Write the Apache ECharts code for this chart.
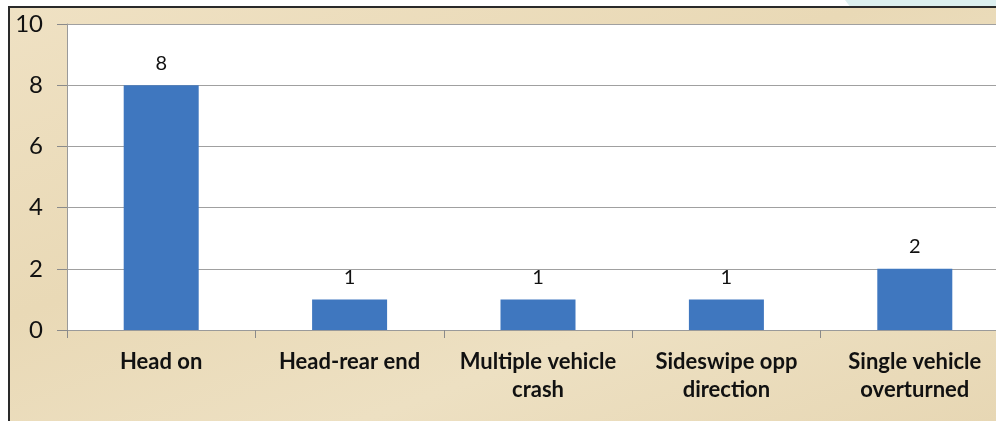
<!DOCTYPE html>
<html>
<head>
<meta charset="utf-8">
<script src="https://cdn.jsdelivr.net/npm/echarts@6/dist/echarts.min.js"></script>
<style>
  html, body { margin: 0; padding: 0; background: #fff; }
  #wrap { position: relative; width: 996px; height: 421px; overflow: hidden; background: #fff; }
  #teal { position: absolute; left: 845px; top: 0; width: 151px; height: 8px; background: #dcefef;
          clip-path: polygon(0 0, 100% 0, 100% 100%, 4% 100%); }
  #chart { position: absolute; left: 8px; top: 6px; width: 986px; height: 413px;
           border-left: 2px solid #2a2a2a; border-top: 2px solid #2a2a2a;
           background: linear-gradient(160deg, #efe1c3 0%, #e9d9b6 40%, #ede0c2 70%, #e7d7b4 100%); }
</style>
</head>
<body>
<div id="wrap">
  <div id="teal"></div>
  <div id="chart"></div>
</div>
<script>
// 事故类型及数量
const categories = ['Head on', 'Head-rear end', 'Multiple vehicle\ncrash', 'Sideswipe opp\ndirection', 'Single vehicle\noverturned']
const counts = [8, 1, 1, 1, 2]
const yMin = 0
const yMax = 10
const yStep = 2

const chart = echarts.init(document.getElementById('chart'))
chart.setOption({
  animation: false,
  textStyle: { fontFamily: 'Lato' },
  grid: {
    show: true,
    backgroundColor: '#ffffff',
    borderWidth: 0,
    outerBoundsMode: 'none',
    containLabel: false,
    left: 57,
    top: 16,
    width: 942,
    height: 306
  },
  xAxis: {
    type: 'category',
    data: categories,
    axisLine: { lineStyle: { color: '#9a9a9a', width: 1 } },
    axisTick: { show: true, length: 8, lineStyle: { color: '#8a8a8a' } },
    axisLabel: {
      interval: 0,
      color: '#111',
      fontWeight: 'bold',
      fontSize: 22,
      lineHeight: 28,
      margin: 18
    }
  },
  yAxis: {
    type: 'value',
    min: yMin,
    max: yMax,
    interval: yStep,
    axisLine: { show: true, lineStyle: { color: '#9a9a9a', width: 1 } },
    axisTick: { show: true, length: 10, lineStyle: { color: '#8a8a8a' } },
    axisLabel: { color: '#111', fontSize: 24, margin: 24 },
    splitLine: { lineStyle: { color: '#a0a0a0', width: 1 } }
  },
  series: [
    {
      type: 'bar',
      data: counts,
      barWidth: 75,
      itemStyle: { color: '#3f77bf' },
      label: {
        show: true,
        position: 'top',
        distance: 12,
        color: '#111',
        fontSize: 20
      }
    }
  ]
})
</script>
</body>
</html>
